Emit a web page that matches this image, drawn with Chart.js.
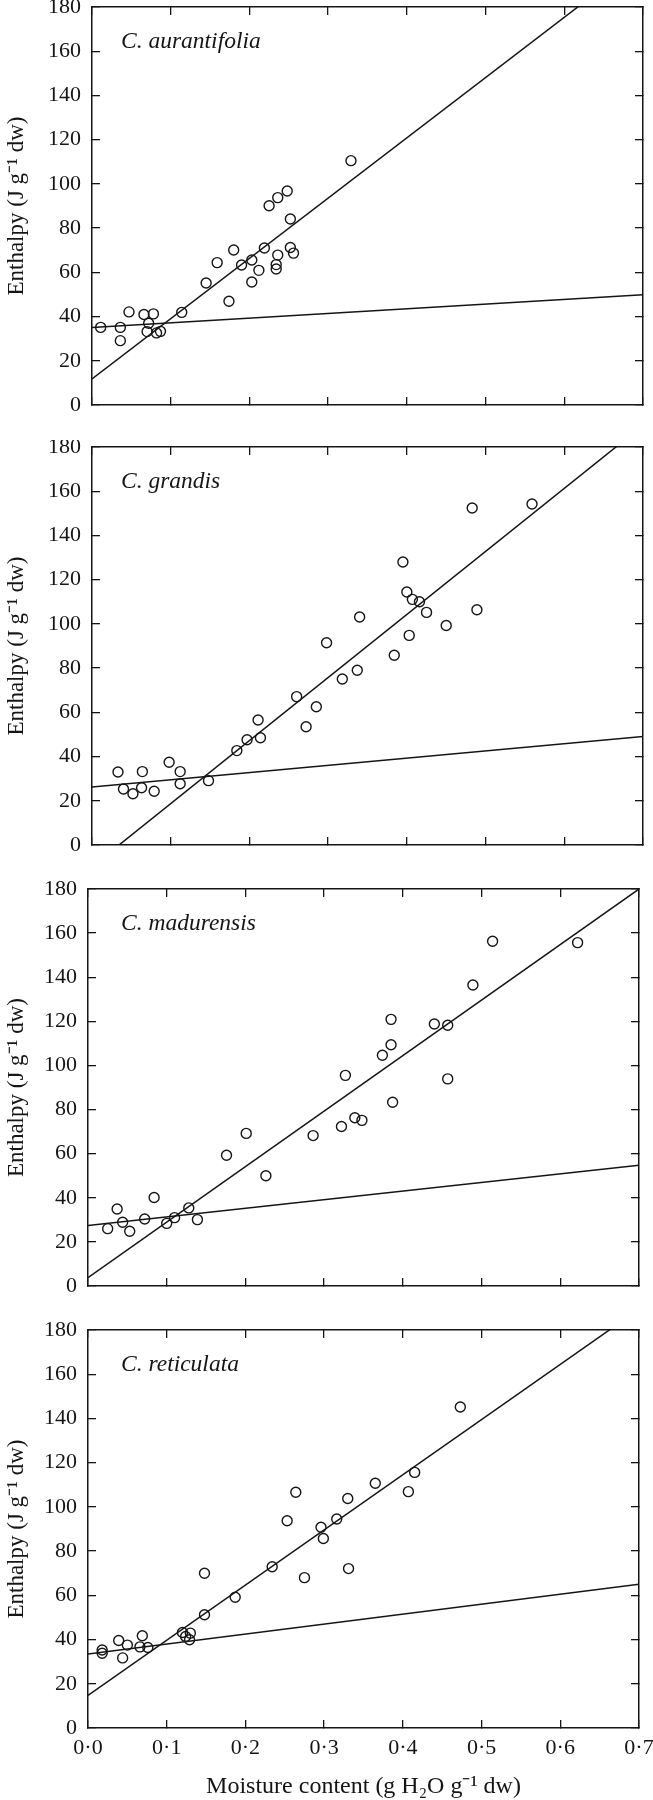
<!DOCTYPE html>
<html>
<head>
<meta charset="utf-8">
<script src="https://cdn.jsdelivr.net/npm/chart.js@4.4.1/dist/chart.umd.min.js"></script>
<style>
  html, body { margin: 0; padding: 0; background: #ffffff; }
  #wrap { position: relative; width: 653px; height: 1800px; overflow: hidden; background: #fff; }
  canvas { position: absolute; left: 0; }
</style>
</head>
<body>
<div id="wrap">
  <canvas id="c0" width="653" height="440" style="top:0px"></canvas>
  <canvas id="c1" width="653" height="440" style="top:440px"></canvas>
  <canvas id="c2" width="653" height="440" style="top:880px"></canvas>
  <canvas id="c3" width="653" height="480" style="top:1320px"></canvas>
</div>
<script>
// ---------------- data ----------------
const xTickLabels = ['0·0', '0·1', '0·2', '0·3', '0·4', '0·5', '0·6', '0·7'];
const yTickLabels = ['0', '20', '40', '60', '80', '100', '120', '140', '160', '180'];
const speciesNames = ['C. aurantifolia', 'C. grandis', 'C. madurensis', 'C. reticulata'];
const xAxisTitle = 'Moisture content (g H\u2082O g\u207B\u00B9 dw)';
const yAxisTitle = 'Enthalpy (J g\u207B\u00B9 dw)';

// endpoints of the fitted lines (moisture content)
const lineMoisture = [0, 0.7];

// C. aurantifolia
const aurantifoliaMoisture = [0.011, 0.036, 0.036, 0.047, 0.066, 0.078, 0.072, 0.070, 0.082, 0.087,
  0.114, 0.145, 0.159, 0.174, 0.180, 0.190, 0.203, 0.203, 0.212, 0.219,
  0.225, 0.236, 0.248, 0.252, 0.236, 0.234, 0.234, 0.252, 0.256, 0.329];
const aurantifoliaEnthalpy = [35.1, 35.1, 29.1, 42.1, 40.9, 41.2, 37.0, 33.2, 32.6, 33.3,
  41.9, 55.2, 64.4, 46.9, 70.1, 63.3, 65.6, 55.6, 60.9, 71.0,
  90.1, 93.8, 96.8, 84.1, 67.8, 63.5, 61.5, 71.2, 68.7, 110.5];
const aurantifoliaSteepLine = [11.8, 202.6];
const aurantifoliaFlatLine = [35.0, 49.9];

// C. grandis
const grandisMoisture = [0.033, 0.040, 0.052, 0.064, 0.063, 0.079, 0.098, 0.112, 0.112, 0.148,
  0.184, 0.197, 0.211, 0.214, 0.260, 0.272, 0.285, 0.298, 0.318, 0.337,
  0.340, 0.384, 0.395, 0.400, 0.407, 0.416, 0.403, 0.425, 0.450, 0.483,
  0.489, 0.559];
const grandisEnthalpy = [33.0, 25.3, 23.2, 33.2, 25.9, 24.3, 37.4, 33.2, 27.7, 29.1,
  42.7, 47.6, 56.5, 48.5, 67.1, 53.5, 62.5, 91.5, 75.1, 79.0,
  103.1, 85.8, 128.0, 114.4, 111.1, 110.0, 94.8, 105.2, 99.3, 152.4,
  106.4, 154.2];
const grandisSteepLine = [-9.8, 189.8];
const grandisFlatLine = [26.2, 49.1];

// C. madurensis
const madurensisMoisture = [0.025, 0.037, 0.044, 0.053, 0.072, 0.084, 0.100, 0.110, 0.128, 0.139,
  0.176, 0.201, 0.226, 0.286, 0.322, 0.327, 0.339, 0.348, 0.374, 0.385,
  0.385, 0.387, 0.440, 0.457, 0.457, 0.489, 0.514, 0.622];
const madurensisEnthalpy = [26.0, 34.9, 28.9, 24.8, 30.4, 40.1, 28.4, 31.0, 35.4, 30.1,
  59.3, 69.2, 50.0, 68.2, 72.3, 95.5, 76.3, 75.1, 104.6, 109.4,
  120.9, 83.3, 118.8, 118.2, 93.9, 136.5, 156.3, 155.7];
const madurensisSteepLine = [3.8, 180.0];
const madurensisFlatLine = [27.4, 54.7];

// C. reticulata
const reticulataMoisture = [0.018, 0.018, 0.039, 0.044, 0.050, 0.066, 0.069, 0.076, 0.120, 0.124,
  0.130, 0.129, 0.148, 0.148, 0.187, 0.234, 0.253, 0.264, 0.275, 0.296,
  0.299, 0.316, 0.330, 0.331, 0.365, 0.407, 0.415, 0.473];
const reticulataEnthalpy = [35.3, 33.8, 39.6, 31.7, 37.5, 36.7, 41.7, 36.4, 43.2, 41.4,
  42.9, 39.9, 70.0, 51.2, 59.1, 72.9, 93.7, 106.6, 68.0, 90.8,
  85.7, 94.5, 103.8, 72.1, 110.7, 106.9, 115.6, 145.2];
const reticulataSteepLine = [14.7, 189.4];
const reticulataFlatLine = [33.5, 65.0];

// ---------------- layout / style ----------------
const FONT = '"Liberation Serif", "Times New Roman", serif';
const INK = '#151515';
const panels = [
  { id: 'c0', name: speciesNames[0], mx: aurantifoliaMoisture, hy: aurantifoliaEnthalpy, steep: aurantifoliaSteepLine, flat: aurantifoliaFlatLine,
    height: 440, padTop: 7, plotLeft: 92, plotRight: 643, xHeight: 0, padBottom: 35, showX: false },
  { id: 'c1', name: speciesNames[1], mx: grandisMoisture, hy: grandisEnthalpy, steep: grandisSteepLine, flat: grandisFlatLine,
    height: 440, padTop: 7, plotLeft: 92, plotRight: 643, xHeight: 0, padBottom: 35, showX: false },
  { id: 'c2', name: speciesNames[2], mx: madurensisMoisture, hy: madurensisEnthalpy, steep: madurensisSteepLine, flat: madurensisFlatLine,
    height: 440, padTop: 9, plotLeft: 88, plotRight: 639, xHeight: 0, padBottom: 34, showX: false },
  { id: 'c3', name: speciesNames[3], mx: reticulataMoisture, hy: reticulataEnthalpy, steep: reticulataSteepLine, flat: reticulataFlatLine,
    height: 480, padTop: 10, plotLeft: 88, plotRight: 639, xHeight: 72, padBottom: 0, showX: true }
];

const speciesLabel = {
  id: 'speciesLabel',
  afterDraw(chart, args, opts) {
    const ctx = chart.ctx;
    ctx.save();
    ctx.font = 'italic 23.5px ' + FONT;
    ctx.fillStyle = INK;
    ctx.textAlign = 'left';
    ctx.textBaseline = 'alphabetic';
    ctx.fillText(opts.text, 121, chart.chartArea.top + 41);
    ctx.restore();
  }
};

function zip(xs, ys) { return xs.map((x, i) => ({ x: x, y: ys[i] })); }

function makeChart(p) {
  const tickFont = { family: FONT, size: 22, lineHeight: 1 };
  const grid = { drawOnChartArea: false, drawTicks: true, tickLength: -8, color: INK, lineWidth: 1.3 };
  const border = { display: true, color: INK, width: 1.5 };
  const noPad = s => { s.paddingLeft = 0; s.paddingRight = 0; s.paddingTop = 0; s.paddingBottom = 0; };

  new Chart(document.getElementById(p.id), {
    type: 'scatter',
    data: {
      datasets: [
        { data: zip(lineMoisture, p.steep), showLine: true, borderColor: INK, borderWidth: 1.5, pointRadius: 0, fill: false, tension: 0 },
        { data: zip(lineMoisture, p.flat), showLine: true, borderColor: INK, borderWidth: 1.5, pointRadius: 0, fill: false, tension: 0 },
        { data: zip(p.mx, p.hy), showLine: false, pointRadius: 5, pointBorderWidth: 1.4,
          pointBorderColor: INK, pointBackgroundColor: 'rgba(0,0,0,0)', borderColor: INK, backgroundColor: 'rgba(0,0,0,0)' }
      ]
    },
    options: {
      responsive: false,
      animation: false,
      devicePixelRatio: 1,
      layout: { autoPadding: false, padding: { top: p.padTop, left: 0, right: 653 - p.plotRight, bottom: p.padBottom } },
      plugins: { legend: { display: false }, tooltip: { enabled: false }, speciesLabel: { text: p.name } },
      scales: {
        x: {
          type: 'linear', position: 'bottom', min: 0, max: 0.7,
          grid: grid, border: border,
          ticks: { stepSize: 0.1, display: p.showX, padding: 17, font: tickFont, color: INK, maxRotation: 0, autoSkip: false,
            callback: (v, i) => xTickLabels[i] },
          title: { display: p.showX, text: xAxisTitle, color: INK, font: { family: FONT, size: 24, lineHeight: 1 }, padding: { top: 0, bottom: 1 } },
          afterFit: s => { s.height = p.xHeight; noPad(s); }
        },
        x2: {
          type: 'linear', position: 'top', min: 0, max: 0.7, display: true,
          grid: grid, border: border,
          ticks: { stepSize: 0.1, display: false },
          afterFit: s => { s.height = 0; noPad(s); }
        },
        y: {
          type: 'linear', position: 'left', min: 0, max: 180,
          grid: grid, border: border,
          ticks: { stepSize: 20, padding: 19, font: tickFont, color: INK, autoSkip: false,
            callback: (v, i) => yTickLabels[i] },
          title: { display: true, text: yAxisTitle, color: INK, font: { family: FONT, size: 23, lineHeight: 1 }, padding: { top: 5, bottom: 0 } },
          afterFit: s => { s.width = p.plotLeft; noPad(s); }
        },
        y2: {
          type: 'linear', position: 'right', min: 0, max: 180, display: true,
          grid: grid, border: border,
          ticks: { stepSize: 20, display: false },
          afterFit: s => { s.width = 0; noPad(s); }
        }
      }
    },
    plugins: [speciesLabel]
  });
}

panels.forEach(makeChart);
</script>
</body>
</html>
